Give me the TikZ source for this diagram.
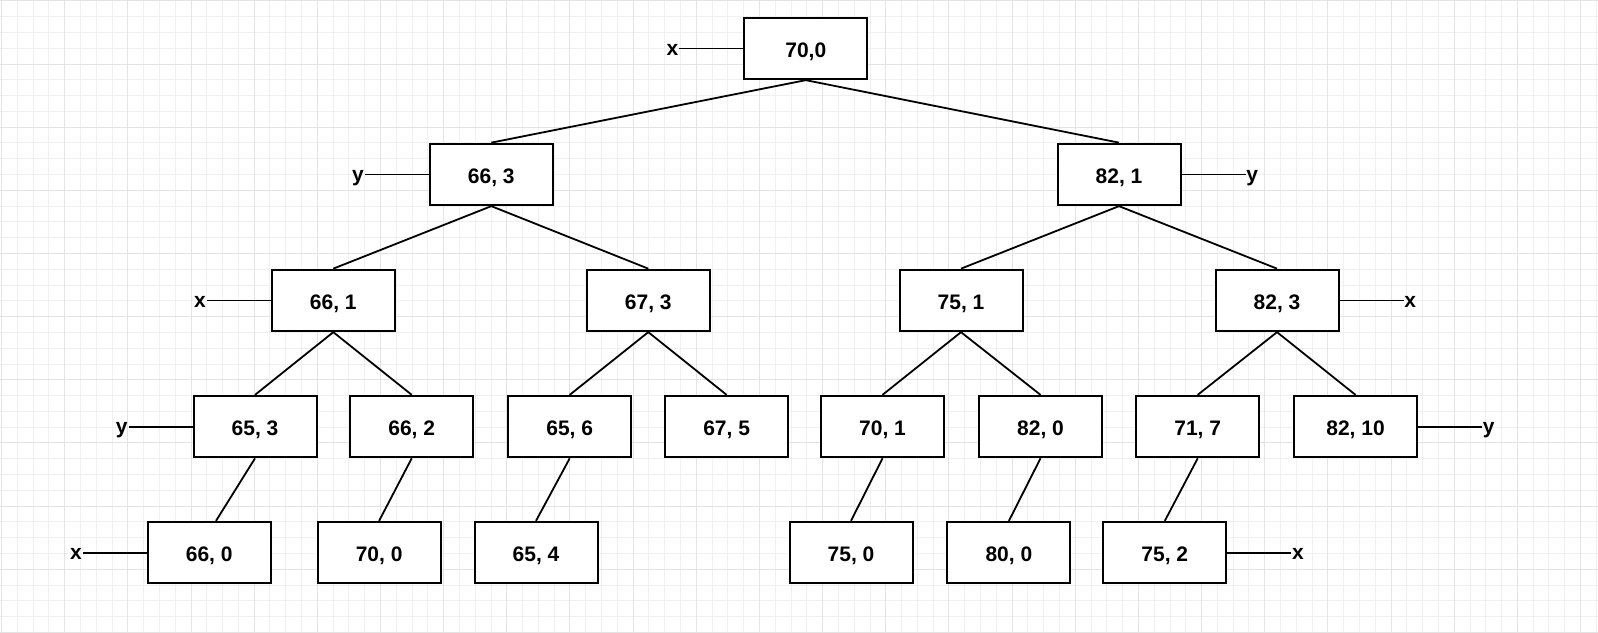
\documentclass[tikz,border=0pt]{standalone}
\usepackage{fontspec}
\setmainfont{Liberation Sans}
\begin{document}
\begin{tikzpicture}[x=1pt,y=-1pt,
  minorgrid/.style={line width=0.9pt, draw=black!6},
  majorgrid/.style={line width=0.9pt, draw=black!11},
  tbox/.style={draw, line width=2pt, fill=white, minimum width=123pt,
    minimum height=61.5pt, inner sep=0pt,
    font=\fontsize{21}{25}\selectfont\bfseries,
    text height=17.6pt, text depth=0pt},
  edge/.style={line width=1.8pt},
  tagline/.style={line width=1.8pt},
  tag/.style={inner sep=0pt, font=\fontsize{21}{25}\selectfont\bfseries}]
\useasboundingbox (0,0) rectangle (1598,632);

% background grid
\foreach \k in {0,...,101} {
  \draw[minorgrid] ({1.5+15.79*\k},0) -- ({1.5+15.79*\k},632);
}
\foreach \k in {0,...,40} {
  \draw[minorgrid] (0,{0.8+15.79*\k}) -- (1598,{0.8+15.79*\k});
}
\foreach \k in {0,...,25} {
  \draw[majorgrid] ({1.5+63.16*\k},0) -- ({1.5+63.16*\k},632);
}
\foreach \k in {0,...,10} {
  \draw[majorgrid] (0,{0.8+63.16*\k}) -- (1598,{0.8+63.16*\k});
}

% tree nodes
\node[tbox] (r)  at (805.8,48.4)   {70,0};
\node[tbox] (a1) at (491.3,174.4)  {66, 3};
\node[tbox] (a2) at (1119.0,174.4) {82, 1};
\node[tbox] (b1) at (333.3,300.4)  {66, 1};
\node[tbox] (b2) at (648.3,300.4)  {67, 3};
\node[tbox] (b3) at (961.0,300.4)  {75, 1};
\node[tbox] (b4) at (1277.0,300.4) {82, 3};
\node[tbox] (c1) at (255.0,426.6)  {65, 3};
\node[tbox] (c2) at (411.7,426.6)  {66, 2};
\node[tbox] (c3) at (569.7,426.6)  {65, 6};
\node[tbox] (c4) at (726.6,426.6)  {67, 5};
\node[tbox] (c5) at (882.5,426.6)  {70, 1};
\node[tbox] (c6) at (1040.5,426.6) {82, 0};
\node[tbox] (c7) at (1197.7,426.6) {71, 7};
\node[tbox] (c8) at (1355.5,426.6) {82, 10};
\node[tbox] (d1) at (209.2,552.6)  {66, 0};
\node[tbox] (d2) at (379.1,552.6)  {70, 0};
\node[tbox] (d3) at (536.0,552.6)  {65, 4};
\node[tbox] (d4) at (851.0,552.6)  {75, 0};
\node[tbox] (d5) at (1008.9,552.6) {80, 0};
\node[tbox] (d6) at (1164.8,552.6) {75, 2};

% parent-child links
\foreach \p/\c in {r/a1, r/a2, a1/b1, a1/b2, a2/b3, a2/b4,
                   b1/c1, b1/c2, b2/c3, b2/c4, b3/c5, b3/c6, b4/c7, b4/c8,
                   c2/d2, c3/d3, c5/d4, c6/d5, c7/d6} {
  \draw[edge] (\p.south) -- (\c.north);
}
\draw[edge] (c1.south) -- ([xshift=6.8pt]d1.north);

% split-axis tags
\foreach \n/\t in {r/x, a1/y, b1/x, c1/y, d1/x} {
  \draw[tagline] (\n.west) -- ++(-64,0)
    node[tag, anchor=base east, yshift=-6.9pt] {\t};
}
\foreach \n/\t in {a2/y, b4/x, c8/y, d6/x} {
  \draw[tagline] (\n.east) -- ++(64,0)
    node[tag, anchor=base west, yshift=-6.9pt] {\t};
}
\end{tikzpicture}
\end{document}
